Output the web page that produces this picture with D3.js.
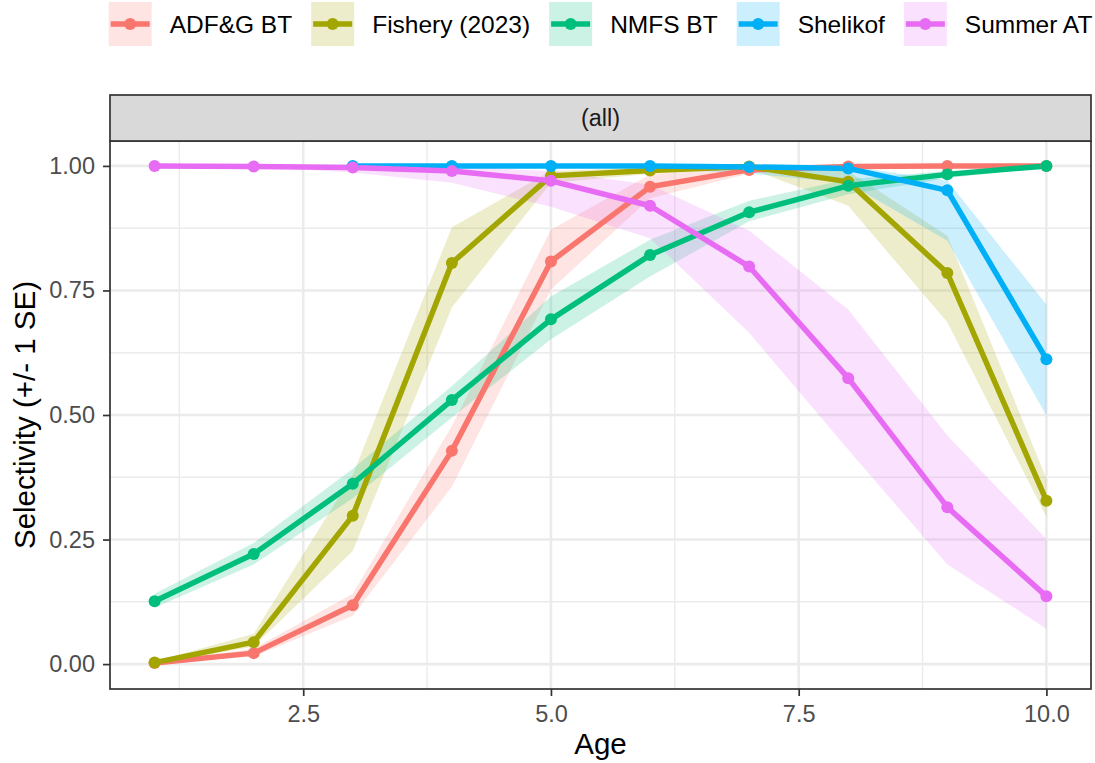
<!DOCTYPE html>
<html>
<head>
<meta charset="utf-8">
<script src="https://cdn.jsdelivr.net/npm/d3@7"></script>
<style>
  html, body { margin: 0; padding: 0; background: #ffffff; }
  svg { display: block; font-family: "Liberation Sans", Arial, "DejaVu Sans", sans-serif; }
</style>
</head>
<body>
<svg id="chart" width="1095" height="763"></svg>
<script>
// Ages on the x axis
const ages = [1, 2, 3, 4, 5, 6, 7, 8, 9, 10];

// Survey / fishery names, in legend order
const fleets = ["ADF&G BT", "Fishery (2023)", "NMFS BT", "Shelikof", "Summer AT"];
const fleetColors = ["#F8766D", "#A3A500", "#00BF7D", "#00B0F6", "#E76BF3"];

// Selectivity estimates with lower / upper (+/- 1 SE) bounds, by age
const adfgEst = [0.002, 0.022, 0.118, 0.428, 0.808, 0.958, 0.992, 0.999, 1.000, 1.000];
const adfgLo  = [0.001, 0.015, 0.097, 0.356, 0.752, 0.935, 0.985, 0.998, 0.999, 1.000];
const adfgHi  = [0.004, 0.031, 0.141, 0.478, 0.872, 0.983, 0.997, 1.000, 1.000, 1.000];

const fisheryEst = [0.003, 0.044, 0.298, 0.805, 0.980, 0.991, 0.999, 0.968, 0.785, 0.328];
const fisheryLo  = [0.001, 0.035, 0.227, 0.716, 0.966, 0.984, 0.995, 0.920, 0.686, 0.296];
const fisheryHi  = [0.005, 0.061, 0.380, 0.877, 0.990, 0.997, 1.000, 0.990, 0.860, 0.372];

const nmfsEst = [0.126, 0.221, 0.362, 0.530, 0.692, 0.821, 0.907, 0.960, 0.983, 1.000];
const nmfsLo  = [0.113, 0.200, 0.333, 0.495, 0.652, 0.778, 0.889, 0.943, 0.975, 0.999];
const nmfsHi  = [0.141, 0.243, 0.392, 0.558, 0.738, 0.852, 0.930, 0.973, 0.990, 1.000];

const shelikofEst = [null, null, 1.000, 1.000, 1.000, 1.000, 0.998, 0.995, 0.951, 0.612];
const shelikofLo  = [null, null, 0.999, 0.999, 0.998, 0.995, 0.985, 0.965, 0.850, 0.499];
const shelikofHi  = [null, null, 1.000, 1.000, 1.000, 1.000, 1.000, 1.000, 0.970, 0.722];

const summerEst = [1.000, 0.999, 0.997, 0.990, 0.970, 0.920, 0.798, 0.574, 0.315, 0.136];
const summerLo  = [1.000, 0.998, 0.987, 0.966, 0.918, 0.855, 0.665, 0.430, 0.200, 0.071];
const summerHi  = [1.000, 1.000, 1.000, 0.998, 0.990, 0.962, 0.870, 0.712, 0.459, 0.251];

// Axis ticks
const xTicks = [2.5, 5.0, 7.5, 10.0];
const xMinor = [1.25, 3.75, 6.25, 8.75];
const yTicks = [0, 0.25, 0.5, 0.75, 1.0];
const yMinor = [0.125, 0.375, 0.625, 0.875];

const facetLabel = "(all)";
const xTitle = "Age";
const yTitle = "Selectivity (+/- 1 SE)";

// Assemble per-fleet records
const estAll = [adfgEst, fisheryEst, nmfsEst, shelikofEst, summerEst];
const loAll  = [adfgLo, fisheryLo, nmfsLo, shelikofLo, summerLo];
const hiAll  = [adfgHi, fisheryHi, nmfsHi, shelikofHi, summerHi];
const series = fleets.map((name, i) => ({
  name,
  color: fleetColors[i],
  values: ages.map((a, j) => ({ age: a, est: estAll[i][j], lo: loAll[i][j], hi: hiAll[i][j] }))
                .filter(d => d.est !== null)
}));

const svg = d3.select("#chart");

// Panel geometry
const panel = { left: 110, right: 1091, top: 141, bottom: 689 };
const strip = { top: 95, bottom: 141 };

const x = d3.scaleLinear().domain([0.55, 10.45]).range([panel.left, panel.right]);
const y = d3.scaleLinear().domain([-0.05, 1.05]).range([panel.bottom, panel.top]);

// Panel background
svg.append("rect")
  .attr("x", panel.left).attr("y", panel.top)
  .attr("width", panel.right - panel.left).attr("height", panel.bottom - panel.top)
  .attr("fill", "#ffffff");

// Grid lines
const grid = svg.append("g");
grid.selectAll("line.xminor").data(xMinor).join("line")
  .attr("x1", d => x(d)).attr("x2", d => x(d))
  .attr("y1", panel.top).attr("y2", panel.bottom)
  .attr("stroke", "#EBEBEB").attr("stroke-width", 1.4);
grid.selectAll("line.yminor").data(yMinor).join("line")
  .attr("y1", d => y(d)).attr("y2", d => y(d))
  .attr("x1", panel.left).attr("x2", panel.right)
  .attr("stroke", "#EBEBEB").attr("stroke-width", 1.4);
grid.selectAll("line.xmajor").data(xTicks).join("line")
  .attr("x1", d => x(d)).attr("x2", d => x(d))
  .attr("y1", panel.top).attr("y2", panel.bottom)
  .attr("stroke", "#EBEBEB").attr("stroke-width", 2.6);
grid.selectAll("line.ymajor").data(yTicks).join("line")
  .attr("y1", d => y(d)).attr("y2", d => y(d))
  .attr("x1", panel.left).attr("x2", panel.right)
  .attr("stroke", "#EBEBEB").attr("stroke-width", 2.6);

// Ribbons
const area = d3.area().x(d => x(d.age)).y0(d => y(d.lo)).y1(d => y(d.hi));
svg.append("g").selectAll("path").data(series).join("path")
  .attr("d", s => area(s.values))
  .attr("fill", s => s.color)
  .attr("fill-opacity", 0.2)
  .attr("stroke", "none");

// Lines
const line = d3.line().x(d => x(d.age)).y(d => y(d.est));
svg.append("g").selectAll("path").data(series).join("path")
  .attr("d", s => line(s.values))
  .attr("fill", "none")
  .attr("stroke", s => s.color)
  .attr("stroke-width", 5.5)
  .attr("stroke-linejoin", "round");

// Points
const pts = svg.append("g");
series.forEach(s => {
  pts.append("g").selectAll("circle").data(s.values).join("circle")
    .attr("cx", d => x(d.age)).attr("cy", d => y(d.est))
    .attr("r", 6)
    .attr("fill", s.color);
});

// Panel border
svg.append("rect")
  .attr("x", panel.left).attr("y", panel.top)
  .attr("width", panel.right - panel.left).attr("height", panel.bottom - panel.top)
  .attr("fill", "none").attr("stroke", "#333333").attr("stroke-width", 1.7);

// Facet strip
svg.append("rect")
  .attr("x", panel.left).attr("y", strip.top)
  .attr("width", panel.right - panel.left).attr("height", strip.bottom - strip.top)
  .attr("fill", "#D9D9D9").attr("stroke", "#333333").attr("stroke-width", 1.7);
svg.append("text")
  .attr("x", (panel.left + panel.right) / 2).attr("y", (strip.top + strip.bottom) / 2)
  .attr("dy", "0.35em")
  .attr("text-anchor", "middle")
  .attr("font-size", 23.5)
  .attr("fill", "#1A1A1A")
  .text(facetLabel);

// Axes
const yAxis = d3.axisLeft(y).tickValues(yTicks).tickFormat(d3.format(".2f")).tickSize(7).tickPadding(8);
const xAxis = d3.axisBottom(x).tickValues(xTicks).tickFormat(d3.format(".1f")).tickSize(7).tickPadding(9);

const gy = svg.append("g").attr("transform", `translate(${panel.left},0)`).call(yAxis);
const gx = svg.append("g").attr("transform", `translate(0,${panel.bottom})`).call(xAxis);
[gx, gy].forEach(g => {
  g.select(".domain").remove();
  g.selectAll(".tick line").attr("stroke", "#333333").attr("stroke-width", 1.7);
  g.selectAll(".tick text")
    .attr("fill", "#4D4D4D")
    .attr("font-size", 23.5)
    .attr("font-family", "'Liberation Sans', Arial, sans-serif");
});

// Axis titles
svg.append("text")
  .attr("x", (panel.left + panel.right) / 2).attr("y", 754)
  .attr("text-anchor", "middle")
  .attr("font-size", 29.5)
  .attr("fill", "#000000")
  .text(xTitle);
svg.append("text")
  .attr("transform", `translate(35,${(panel.top + panel.bottom) / 2}) rotate(-90)`)
  .attr("text-anchor", "middle")
  .attr("font-size", 29.5)
  .attr("fill", "#000000")
  .text(yTitle);

// Legend across the top, centred over the panel
const legend = svg.append("g");
const keyW = 43, keyH = 44, keyTop = 2, keyTextGap = 18, itemGap = 19;
let cursor = 0;
const items = series.map(s => {
  const g = legend.append("g");
  g.append("rect")
    .attr("x", 0).attr("y", keyTop).attr("width", keyW).attr("height", keyH)
    .attr("fill", s.color).attr("fill-opacity", 0.2);
  g.append("line")
    .attr("x1", 2).attr("x2", keyW - 2)
    .attr("y1", keyTop + keyH / 2).attr("y2", keyTop + keyH / 2)
    .attr("stroke", s.color).attr("stroke-width", 5.5);
  g.append("circle")
    .attr("cx", keyW / 2).attr("cy", keyTop + keyH / 2).attr("r", 6)
    .attr("fill", s.color);
  const t = g.append("text")
    .attr("x", keyW + keyTextGap).attr("y", keyTop + keyH / 2)
    .attr("dy", "0.35em")
    .attr("font-size", 24.5)
    .attr("fill", "#000000")
    .text(s.name);
  const w = keyW + keyTextGap + t.node().getComputedTextLength();
  g.attr("transform", `translate(${cursor},0)`);
  cursor += w + itemGap;
  return g;
});
const legendWidth = cursor - itemGap;
legend.attr("transform", `translate(${(panel.left + panel.right) / 2 - legendWidth / 2},0)`);
</script>
</body>
</html>
